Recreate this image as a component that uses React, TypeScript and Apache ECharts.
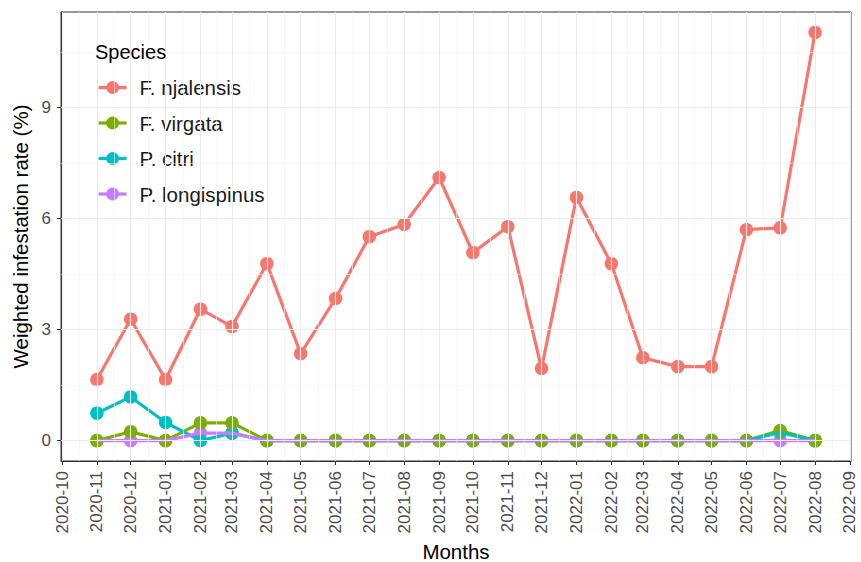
import React, { useEffect, useRef } from 'react';
import * as echarts from 'echarts';

// ---- data ----
const tickMonths = [
  '2020-10', '2020-11', '2020-12', '2021-01', '2021-02', '2021-03', '2021-04', '2021-05',
  '2021-06', '2021-07', '2021-08', '2021-09', '2021-10', '2021-11', '2021-12', '2022-01',
  '2022-02', '2022-03', '2022-04', '2022-05', '2022-06', '2022-07', '2022-08', '2022-09',
];
const months = [
  '2020-11', '2020-12', '2021-01', '2021-02', '2021-03', '2021-04', '2021-05', '2021-06',
  '2021-07', '2021-08', '2021-09', '2021-10', '2021-11', '2021-12', '2022-01', '2022-02',
  '2022-03', '2022-04', '2022-05', '2022-06', '2022-07', '2022-08',
];
const speciesNames = ['F. njalensis', 'F. virgata', 'P. citri', 'P. longispinus'];
const njalensis = [1.65, 3.28, 1.65, 3.55, 3.08, 4.78, 2.35, 3.84, 5.51, 5.84, 7.11, 5.08, 5.78, 1.95, 6.57, 4.78, 2.24, 2.0, 2.0, 5.7, 5.75, 11.03];
const virgata = [0, 0.24, 0, 0.48, 0.48, 0, 0, 0, 0, 0, 0, 0, 0, 0, 0, 0, 0, 0, 0, 0, 0.27, 0];
const citri = [0.74, 1.18, 0.49, 0, 0.2, 0, 0, 0, 0, 0, 0, 0, 0, 0, 0, 0, 0, 0, 0, 0, 0.22, 0];
const longispinus = [0, 0, 0, 0.2, 0.2, 0, 0, 0, 0, 0, 0, 0, 0, 0, 0, 0, 0, 0, 0, 0, 0, 0];
const yTicks = [0, 3, 6, 9];
const yMinorTicks = [1.5, 4.5, 7.5, 10.5];
const colors = ['#F8766D', '#7CAE00', '#00BFC4', '#C77CFF'];

const FONT = '"Liberation Sans", Arial, sans-serif';

const toTs = (m: string) => {
  const [y, mo] = m.split('-').map(Number);
  return new Date(y, mo - 1, 1).getTime();
};
const fmtMonth = (v: number) => {
  const d = new Date(Math.round(v));
  return `${d.getFullYear()}-${String(d.getMonth() + 1).padStart(2, '0')}`;
};

export default function App() {
  const ref = useRef<HTMLDivElement>(null);
  useEffect(() => {
    document.body.style.margin = '0';
    if (!ref.current) return;
    const chart = echarts.init(ref.current, undefined, { renderer: 'svg' });

    const xs = months.map(toTs);
    const tickTs = tickMonths.map(toTs);
    const minorTs = tickTs.slice(0, -1).map((t, i) => (t + tickTs[i + 1]) / 2);
    const xSpan = xs[xs.length - 1] - xs[0];
    const xMin = xs[0] - 0.05 * xSpan;
    const xMax = xs[xs.length - 1] + 0.05 * xSpan;
    const all = [...njalensis, ...virgata, ...citri, ...longispinus];
    const yLo = Math.min(...all);
    const yHi = Math.max(...all);
    const ySpan = yHi - yLo;
    const yMin = yLo - 0.05 * ySpan;
    const yMax = yHi + 0.05 * ySpan;

    const seriesData = [njalensis, virgata, citri, longispinus];
    const pairs = (arr: number[]) => arr.map((v, i) => [xs[i], v]);

    const major = { color: '#EBEBEB', width: 1.1, type: 'solid' };
    const minor = { color: '#F2F2F2', width: 0.6, type: 'solid' };

    const gridSeries = {
      type: 'line',
      name: '_grid',
      data: pairs(njalensis),
      symbol: 'none',
      lineStyle: { opacity: 0, width: 0 },
      silent: true,
      z: 1,
      markLine: {
        silent: true,
        symbol: ['none', 'none'],
        label: { show: false },
        animation: false,
        data: [
          ...yMinorTicks.map((v) => ({ yAxis: v, lineStyle: minor })),
          ...minorTs.map((v) => ({ xAxis: v, lineStyle: minor })),
          ...yTicks.map((v) => ({ yAxis: v, lineStyle: major })),
          ...tickTs.map((v) => ({ xAxis: v, lineStyle: major })),
        ],
      },
    };

    // points first (row order: longispinus, citri, virgata, njalensis), lines on top
    const pointOrder = [3, 2, 1, 0];
    const pointSeries = pointOrder.map((k) => ({
      type: 'scatter',
      name: 'pts ' + speciesNames[k],
      data: pairs(seriesData[k]),
      symbol: 'circle',
      symbolSize: 13.5,
      itemStyle: { color: colors[k], opacity: 1 },
      silent: true,
      z: 2,
    }));
    const lineSeries = speciesNames.map((n, k) => ({
      type: 'line',
      name: n,
      data: pairs(seriesData[k]),
      symbol: 'circle',
      symbolSize: 13.5,
      showSymbol: false,
      color: colors[k],
      itemStyle: { color: colors[k] },
      lineStyle: { color: colors[k], width: 3.2 },
      silent: true,
      z: 3,
    }));

    chart.setOption({
      animation: false,
      backgroundColor: '#fff',
      grid: {
        left: 61, right: 10, top: 12, bottom: 101,
        show: true, borderColor: '#333333', borderWidth: 1, backgroundColor: '#fff',
        containLabel: false,
        outerBoundsMode: 'none',
      },
      legend: {
        orient: 'vertical',
        left: 82,
        top: 33,
        data: speciesNames,
        backgroundColor: '#fff',
        padding: [44, 8, 7, 15],
        itemWidth: 28,
        itemHeight: 16,
        itemGap: 14.5,
        selectedMode: false,
        lineStyle: { width: 3.2 },
        textStyle: { fontSize: 20.5, fontFamily: FONT, color: '#1A1A1A', lineHeight: 20, padding: [0, 0, 0, 8] },
        z: 5,
      },
      graphic: {
        elements: [
          {
            type: 'text',
            x: 95,
            y: 52,
            z: 10,
            style: { text: 'Species', fontSize: 20, fontFamily: FONT, fill: '#000', verticalAlign: 'middle' },
          },
        ],
      },
      xAxis: {
        type: 'value',
        min: xMin,
        max: xMax,
        scale: true,
        name: 'Months',
        nameLocation: 'middle',
        nameGap: 80,
        nameTextStyle: { fontSize: 20.5, fontFamily: FONT, color: '#000' },
        axisLine: { show: true, onZero: false, lineStyle: { color: '#333333', width: 1 } },
        axisTick: { show: true, customValues: tickTs, length: 4, lineStyle: { color: '#333333', width: 1 } },
        axisLabel: {
          customValues: tickTs,
          rotate: 90,
          margin: 10,
          fontSize: 17,
          fontFamily: FONT,
          color: '#4D4D4D',
          formatter: (v: number) => fmtMonth(v),
          hideOverlap: false,
        },
        splitLine: { show: false },
        minorSplitLine: { show: false },
      },
      yAxis: {
        type: 'value',
        min: yMin,
        max: yMax,
        name: 'Weighted infestation rate (%)',
        nameLocation: 'middle',
        nameGap: 28,
        nameTextStyle: { fontSize: 20.5, fontFamily: FONT, color: '#000' },
        axisLine: { show: true, onZero: false, lineStyle: { color: '#333333', width: 1 } },
        axisTick: { show: true, customValues: yTicks, length: 4, lineStyle: { color: '#333333', width: 1 } },
        axisLabel: {
          customValues: yTicks,
          margin: 10,
          fontSize: 17,
          fontFamily: FONT,
          color: '#4D4D4D',
          formatter: (v: number) => String(v),
        },
        splitLine: { show: false },
      },
      series: [gridSeries, ...pointSeries, ...lineSeries],
    });
    return () => chart.dispose();
  }, []);
  return <div ref={ref} style={{ width: 861, height: 562 }} />;
}
